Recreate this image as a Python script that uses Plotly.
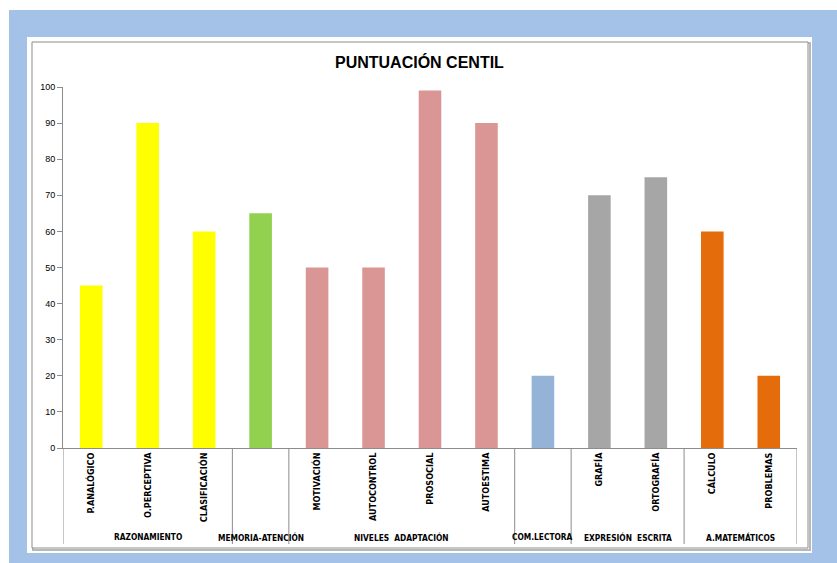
import plotly.graph_objects as go

# ---- data ----
categories = ["P.ANALÓGICO", "O.PERCEPTIVA", "CLASIFICACIÓN", "",
              "MOTIVACIÓN", "AUTOCONTROL", "PROSOCIAL", "AUTOESTIMA",
              "", "GRAFÍA", "ORTOGRAFÍA", "CÁLCULO", "PROBLEMAS"]
values = [45, 90, 60, 65, 50, 50, 99, 90, 20, 70, 75, 60, 20]
groups = ["RAZONAMIENTO", "MEMORIA-ATENCIÓN", "NIVELES  ADAPTACIÓN",
          "COM.LECTORA", "EXPRESIÓN  ESCRITA", "A.MATEMÁTICOS"]
group_sizes = [3, 1, 4, 1, 2, 2]
group_colors = ["#FFFF00", "#92D050", "#DA9694", "#95B3D7", "#A6A6A6", "#E46C0A"]
y_ticks = [0, 10, 20, 30, 40, 50, 60, 70, 80, 90, 100]

W, H = 837, 563
L, R, T, B = 63, 40, 87, 115
pw, ph = W - L - R, H - T - B
LABEL_FONT = "DejaVu Sans Condensed, Liberation Sans Narrow, Arial Narrow, sans-serif"

def px_x(p):
    return (p - L) / pw

def px_y(p):
    return (H - B - p) / ph

colors = []
for c, n in zip(group_colors, group_sizes):
    colors += [c] * n

xs = list(range(len(values)))
fig = go.Figure(go.Bar(x=xs, y=values, marker=dict(color=colors, line=dict(width=0)),
                       width=0.4, hoverinfo="y"))

shapes = []
# blue frame
shapes.append(dict(type="rect", xref="paper", yref="paper", x0=px_x(9), x1=px_x(837),
                   y0=px_y(563), y1=px_y(10), fillcolor="#A4C2E8", line=dict(width=0), layer="below"))
# outer white panel and chart border
shapes.append(dict(type="rect", xref="paper", yref="paper", x0=px_x(27), x1=px_x(812),
                   y0=px_y(553), y1=px_y(37), fillcolor="white", line=dict(width=0), layer="below"))
shapes.append(dict(type="rect", xref="paper", yref="paper", x0=px_x(33), x1=px_x(810),
                   y0=px_y(550), y1=px_y(43), fillcolor="rgba(0,0,0,0)",
                   line=dict(color="#B8B8B8", width=2), layer="below"))
shapes.append(dict(type="rect", xref="paper", yref="paper", x0=px_x(32), x1=px_x(808),
                   y0=px_y(548), y1=px_y(42), fillcolor="white",
                   line=dict(color="#8C8C8C", width=1), layer="below"))

# group dividers and labels
annotations = []
pos = -0.5
bounds = [pos]
for g, n in zip(groups, group_sizes):
    center = pos + n / 2
    annotations.append(dict(x=center, y=px_y(537), xref="x", yref="paper",
                            text="<b>" + g + "</b>",
                            showarrow=False, font=dict(family=LABEL_FONT, size=8.3,
                                                        color="#000000"),
                            xanchor="center", yanchor="middle"))
    pos += n
    bounds.append(pos)
for b in bounds:
    shapes.append(dict(type="line", xref="x", yref="paper", x0=b, x1=b, y0=0, y1=px_y(544),
                       line=dict(color="#8C8C8C", width=1)))

annotations.append(dict(x=px_x(419), y=px_y(62), xref="paper", yref="paper",
                        text="<b>PUNTUACIÓN CENTIL</b>", showarrow=False,
                        font=dict(family="Liberation Sans", size=16, color="#000000"),
                        xanchor="center", yanchor="middle"))

fig.update_layout(
    width=W, height=H,
    margin=dict(l=L, r=R, t=T, b=B, pad=0),
    paper_bgcolor="white",
    plot_bgcolor="rgba(0,0,0,0)",
    showlegend=False,
    shapes=shapes,
    annotations=annotations,
    xaxis=dict(range=[-0.5, len(values) - 0.5], tickmode="array", tickvals=xs,
               ticktext=["<b>" + c + "</b>" if c else "" for c in categories],
               tickangle=-90, showgrid=False, zeroline=False, showline=True,
               linecolor="#8C8C8C", linewidth=1, ticks="",
               tickfont=dict(family=LABEL_FONT, size=9, color="#000000")),
    yaxis=dict(range=[0, 100], tickmode="array", tickvals=y_ticks, showgrid=False,
               zeroline=False, showline=True, linecolor="#8C8C8C", linewidth=1,
               ticks="outside", ticklen=5, tickcolor="#8C8C8C",
               tickfont=dict(family="Liberation Sans", size=9, color="#000000")),
)

fig.write_html("out.html", config={"displayModeBar": False},
               post_script="document.body.style.margin='0';document.body.style.overflow='hidden';")
